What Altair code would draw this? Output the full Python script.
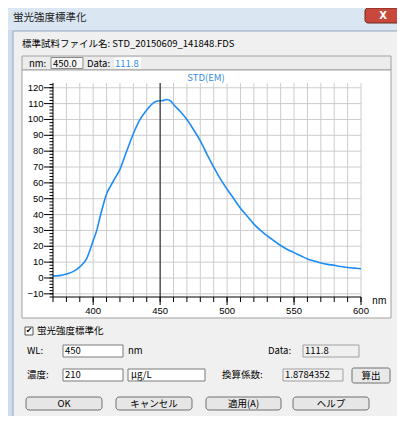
import altair as alt
import pandas as pd

# ---------------- data ----------------
wavelength = [370, 375, 380, 385, 390, 395, 400, 403, 405, 407, 410, 413, 416, 420,
              425, 430, 435, 440, 445, 448, 450, 452, 455, 458, 460,
              465, 470, 475, 480, 485, 490, 495, 500,
              505, 510, 515, 520, 525, 530, 535, 540, 545, 550, 555, 560, 565, 570,
              575, 580, 585, 590, 595, 600]
intensity = [1.2, 1.5, 2.5, 4.0, 7.0, 12.0, 23.5, 31, 38, 44.5, 53, 58, 62.5, 68.5,
             80, 91, 100, 106, 110.5, 111.6, 111.8, 111.9, 112.6, 111.6, 109.5,
             105, 100, 93.5, 86.5, 78, 70, 62.5, 56,
             50, 44, 39, 34, 30, 26.5, 23.5, 20.5, 18, 16, 14, 12, 10.7, 9.5,
             8.6, 8.0, 7.2, 6.6, 6.2, 5.8]
cursor_nm = [450]
x_labels = [400, 450, 500, 550, 600]
x_grid = [380, 390, 400, 410, 420, 430, 440, 450, 460, 470, 480, 490, 500,
          510, 520, 530, 540, 550, 560, 570, 580, 590, 600]
x_minor = [370] + x_grid
y_grid = [-10, 0, 10, 20, 30, 40, 50, 60, 70, 80, 90, 100, 110, 120]
y_minor = list(range(-12, 123, 2))

# ---------------- layout ----------------
W, H = 308, 214
OX, OY = 53, 83          # plot origin on the page
JP = "Noto Sans CJK JP"
NUM = "Liberation Sans"
BLUE = "#2f8be8"

def rx(x):
    return x - OX

def ry(y):
    return y - OY

one = pd.DataFrame({"k": [0]})

def box(x0, y0, x1, y1, fill, stroke=None, r=0):
    kw = dict(fill=fill, cornerRadius=r, opacity=1)
    if stroke:
        kw.update(stroke=stroke, strokeWidth=1)
    else:
        kw.update(strokeWidth=0)
    return alt.Chart(one).mark_rect(**kw).encode(
        x=alt.value(rx(x0)), x2=alt.value(rx(x1)),
        y=alt.value(ry(y0)), y2=alt.value(ry(y1)))

def label(t, x, y, size=9.5, color="#000000", align="left", weight="normal", font=JP):
    return alt.Chart(one).mark_text(
        text=t, align=align, baseline="middle", fontSize=size, font=font,
        color=color, fontWeight=weight).encode(x=alt.value(rx(x)), y=alt.value(ry(y)))

decor = [
    box(7, 7, 410, 430, "#cddcee", "#7589a5", 6),
    box(8, 8, 409, 30, "#dbe6f3"),
    box(365, 8, 401, 23, "#c8493b", "#6b2a22", 3),
    box(13, 31, 401, 418, "#f0f0f0", "#98a8be"),
    box(22, 56, 391, 70, "#ececec", "#a0a0a0"),
    box(51, 57.5, 83, 68.5, "#f6f6f6", "#8a8a8a"),
    box(114, 57.5, 141, 68.5, "#ffffff"),
    box(22, 70, 391, 318, "#ffffff", "#a0a0a0"),
    box(25, 327, 33, 335, "#ffffff", "#555555"),
    box(63, 345, 123, 357, "#ffffff", "#7a7a7a"),
    box(303, 345, 359, 357, "#f0f0f0", "#a0a0a0"),
    box(63, 369, 123, 381, "#ffffff", "#7a7a7a"),
    box(128, 369, 205, 381, "#ffffff", "#7a7a7a"),
    box(283, 369, 343, 381, "#f0f0f0", "#a0a0a0"),
    box(352, 368, 390, 383, "#e9e9e9", "#707070", 2),
    box(26, 397, 102, 410, "#e6e6e6", "#707070", 3),
    box(116, 397, 192, 410, "#e6e6e6", "#707070", 3),
    box(206, 397, 281, 410, "#e6e6e6", "#707070", 3),
    box(293, 397, 369, 410, "#e6e6e6", "#707070", 3),
]

texts = [
    label("X", 383, 15.5, 10, "#ffffff", "center", "bold", "DejaVu Sans"),
    label("蛍光強度標準化", 13, 17.5, 10.5, "#1a1a1a"),
    label("標準試料ファイル名: STD_20150609_141848.FDS", 22, 43.5),
    label("nm:", 29, 63.5),
    label("450.0", 53, 63.5),
    label("Data:", 87, 63.5),
    label("111.8", 115, 63.5, color=BLUE),
    label("STD(EM)", 206, 77.5, color=BLUE, align="center"),
    label("nm", 372, 301),
    label("✔", 29, 331, 8, align="center", font="DejaVu Sans"),
    label("蛍光強度標準化", 37, 331),
    label("WL:", 27, 351),
    label("450", 65, 350.5),
    label("nm", 128, 351),
    label("Data:", 268, 351),
    label("111.8", 305, 350.5),
    label("濃度:", 27, 375),
    label("210", 65, 374.5),
    label("μg/L", 131, 374.5),
    label("換算係数:", 222, 375),
    label("1.8784352", 285, 374.5),
    label("算出", 371, 375.5, align="center"),
    label("OK", 64, 403.5, align="center"),
    label("キャンセル", 154, 403.5, align="center"),
    label("適用(A)", 243.5, 403.5, align="center"),
    label("ヘルプ", 331, 403.5, align="center"),
]

xscale = alt.Scale(domain=[370, 600], nice=False, zero=False)
yscale = alt.Scale(domain=[-12, 123], nice=False, zero=False)

def xf(name):
    return alt.X(f"{name}:Q", scale=xscale, axis=None)

def yf(name):
    return alt.Y(f"{name}:Q", scale=yscale, axis=None)

grid_v = alt.Chart(pd.DataFrame({"g": x_grid})).mark_rule(color="#cccccc", strokeWidth=1).encode(
    x=xf("g"), y=alt.value(0), y2=alt.value(H))
grid_h = alt.Chart(pd.DataFrame({"g": y_grid})).mark_rule(color="#cccccc", strokeWidth=1).encode(
    y=yf("g"), x=alt.value(0), x2=alt.value(W))

curve = alt.Chart(pd.DataFrame({"wl": wavelength, "v": intensity})).mark_line(
    color="#1e8cf5", strokeWidth=1.6, interpolate="monotone").encode(x=xf("wl"), y=yf("v"))

cursor = alt.Chart(pd.DataFrame({"c": cursor_nm})).mark_rule(color="#111111", strokeWidth=1).encode(
    x=xf("c"), y=alt.value(0), y2=alt.value(H))

# axes drawn by hand through the scales
x_domain = alt.Chart(one).mark_rule(color="#000000", strokeWidth=1).encode(
    x=alt.value(0), x2=alt.value(W), y=alt.value(H))
y_domain = alt.Chart(one).mark_rule(color="#000000", strokeWidth=1).encode(
    x=alt.value(0), y=alt.value(0), y2=alt.value(H))
minor_x = alt.Chart(pd.DataFrame({"t": x_minor})).mark_rule(color="#000000", strokeWidth=1).encode(
    x=xf("t"), y=alt.value(H), y2=alt.value(H + 5))
major_x = alt.Chart(pd.DataFrame({"t": x_labels})).mark_rule(color="#000000", strokeWidth=1).encode(
    x=xf("t"), y=alt.value(H), y2=alt.value(H + 8))
xlab = alt.Chart(pd.DataFrame({"t": x_labels})).mark_text(
    font=NUM, fontSize=9.5, color="#000000", align="center", baseline="middle").encode(
    x=xf("t"), y=alt.value(H + 14), text="t:Q")
minor_y = alt.Chart(pd.DataFrame({"t": y_minor})).mark_rule(color="#000000", strokeWidth=1).encode(
    y=yf("t"), x=alt.value(-3.5), x2=alt.value(0))
major_y = alt.Chart(pd.DataFrame({"t": y_grid})).mark_rule(color="#000000", strokeWidth=1).encode(
    y=yf("t"), x=alt.value(-9), x2=alt.value(0))
ylab = alt.Chart(pd.DataFrame({"t": y_grid})).mark_text(
    font=NUM, fontSize=9.5, color="#000000", align="right", baseline="middle").encode(
    y=yf("t"), x=alt.value(-9.5), text="t:Q")

chart = alt.layer(*decor, grid_v, grid_h, curve, cursor,
                  x_domain, y_domain, minor_x, major_x, xlab, minor_y, major_y, ylab,
                  *texts).properties(
    width=W, height=H,
    padding={"left": 45, "top": 75, "right": 36, "bottom": 119},
    autosize=alt.AutoSizeParams(type="none"),
    background="#ffffff",
).configure_view(stroke=None)

chart.save("out.html", embed_options={"renderer": "svg", "actions": False})
